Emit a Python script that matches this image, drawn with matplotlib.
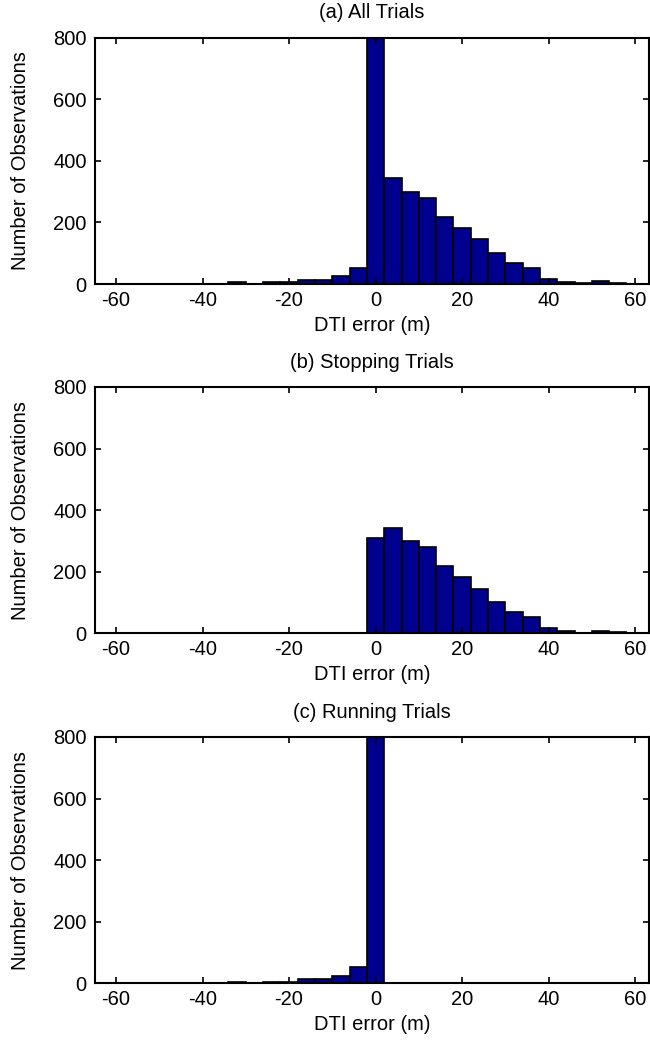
import matplotlib
matplotlib.use("Agg")
import matplotlib.pyplot as plt

# Histogram bin centres for DTI error (m)
bin_centers = [-60, -56, -52, -48, -44, -40, -36, -32, -28, -24, -20, -16, -12, -8, -4,
               0, 4, 8, 12, 16, 20, 24, 28, 32, 36, 40, 44, 48, 52, 56, 60]

# Counts per bin
stopping_counts = [0, 0, 0, 0, 0, 0, 0, 0, 0, 0, 0, 0, 0, 0, 0,
                   310, 343, 300, 280, 217, 182, 145, 102, 69, 53, 16, 7, 2, 9, 3, 1]
running_counts = [0, 0, 0, 0, 0, 0, 0, 5, 1, 5, 5, 14, 14, 25, 52,
                  1450, 0, 0, 0, 0, 0, 0, 0, 0, 0, 0, 0, 0, 0, 0, 0]
all_counts = [0, 0, 0, 0, 0, 0, 0, 5, 1, 5, 5, 14, 14, 25, 52,
              1760, 343, 300, 280, 217, 182, 145, 102, 69, 53, 16, 7, 2, 9, 3, 1]

panel_titles = ["(a) All Trials", "(b) Stopping Trials", "(c) Running Trials"]
x_ticks = [-60, -40, -20, 0, 20, 40, 60]
y_ticks = [0, 200, 400, 600, 800]

plt.rcParams["font.family"] = ["Liberation Sans", "DejaVu Sans"]
plt.rcParams["axes.unicode_minus"] = False

W, H = 650, 1048
fig = plt.figure(figsize=(W / 100, H / 100), dpi=100)

left_px, right_px = 95, 648.5
axis_h_px = 246.3
bottoms_px = [284.0, 633.3, 983.3]

bar_color = "#00008F"
bin_width = 4

for title, counts, bottom_px in zip(panel_titles,
                                    [all_counts, stopping_counts, running_counts],
                                    bottoms_px):
    ax = fig.add_axes([left_px / W, 1 - bottom_px / H,
                       (right_px - left_px) / W, axis_h_px / H])
    ax.bar(bin_centers, counts, width=bin_width, color=bar_color,
           edgecolor="black", linewidth=1.2, align="center")
    ax.set_xlim(-64.86, 63.1)
    ax.set_ylim(0, 800)
    ax.set_xticks(x_ticks)
    ax.set_yticks(y_ticks)
    ax.tick_params(direction="in", length=4, width=1.2, labelsize=14.5,
                   top=True, right=True, pad=6)
    ax.tick_params(axis="x", pad=5)
    for sp in ax.spines.values():
        sp.set_linewidth(1.5)
    ax.set_title(title, fontsize=14.5, pad=14)
    ax.set_xlabel("DTI error (m)", fontsize=14.5, labelpad=4)
    ax.set_ylabel("Number of Observations", fontsize=14.5, labelpad=17)

fig.savefig("out.png", dpi=100)
